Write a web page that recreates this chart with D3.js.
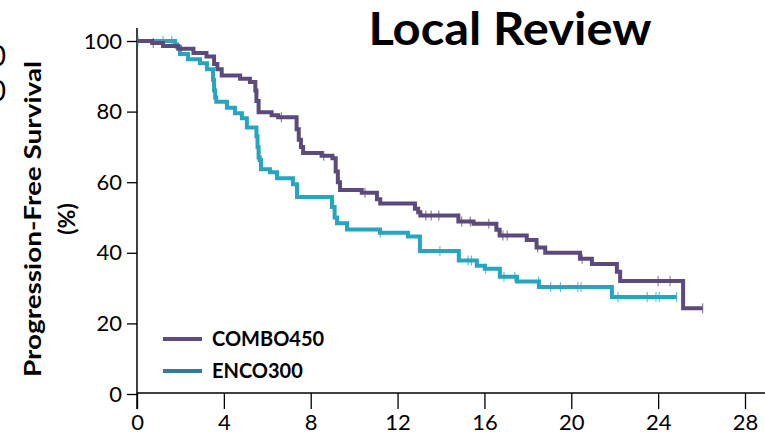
<!DOCTYPE html>
<html>
<head>
<meta charset="utf-8">
<script src="https://cdn.jsdelivr.net/npm/d3@7"></script>
<style>
  body { margin: 0; background: #fff; }
</style>
</head>
<body>
<div id="chart"></div>
<script>
// tick labels
const monthTicks = [0, 4, 8, 12, 16, 20, 24, 28];
const pctTicks = [0, 20, 40, 60, 80, 100];

// COMBO450 (Kaplan-Meier steps: time of event, survival after it)
const comboTime = [0, 0.7, 1.2, 1.9, 2.6, 3.2, 3.55, 3.7, 3.9, 4.75, 5.2, 5.45, 5.5, 5.6, 6.2, 6.5, 7.35, 7.45, 7.55, 7.65,
  8.5, 9.0, 9.15, 9.25, 9.35, 10.35, 11.05, 11.2, 12.8, 12.95, 13.05, 14.8, 15.5, 16.55, 16.7, 17.95, 18.4, 18.8,
  20.4, 20.95, 22.1, 22.25, 25.15];
const comboSurv = [100, 99.4, 98.6, 97.8, 96.6, 95.6, 93.5, 92.0, 90.2, 89.3, 88.4, 86, 83, 79.8, 79.0, 78.4, 75, 72, 70, 68.3,
  67.5, 66.8, 63, 60, 57.8, 57.0, 55.2, 54.0, 52.5, 51.5, 50.6, 48.9, 48.2, 46.5, 44.9, 43.6, 41.5, 40.0,
  38.3, 36.8, 34.6, 32.0, 24.3];
const comboEnd = 26.05;
const comboCensor = [0.75, 6.65, 8.6, 10.5, 13.3, 13.55, 13.9, 14.95, 15.35, 16.2, 16.85, 17.05, 18.45, 20.5, 24.0, 24.55, 26.05];

// ENCO300
const encoTime = [0, 1.75, 1.85, 1.98, 2.35, 2.9, 3.22, 3.5, 3.55, 3.6, 3.65, 4.14, 4.51, 4.83, 5.06, 5.5, 5.55, 5.6, 5.65, 5.71,
  6.12, 6.45, 7.18, 7.37, 8.98, 9.1, 9.21, 9.67, 11.19, 12.48, 13.03, 14.82, 15.65, 16.02, 16.71, 17.5, 18.51, 21.87];
const encoSurv = [100, 99, 98.3, 96.3, 94.8, 93.7, 92.0, 89, 86, 84, 82.8, 81.1, 79.5, 78.1, 75.5, 73, 70, 67, 66.3, 63.7,
  62.8, 61.1, 59.4, 55.8, 53, 50, 48.4, 46.6, 45.7, 44.6, 40.5, 37.8, 36.3, 35.5, 33.2, 31.9, 30.3, 27.5];
const encoEnd = 24.85;
const encoCensor = [0.05, 1.2, 1.6, 11.2, 13.95, 15.25, 15.4, 16.05, 16.9, 17.4, 18.5, 19.05, 19.5, 20.3, 20.45, 22.15, 23.5, 23.9, 24.05, 24.85];

const seriesNames = ["COMBO450", "ENCO300"];
const seriesColors = ["#5b4a7b", "#27a4be"];
const legendColors = ["#5e4c7e", "#2f7e95"];

const width = 765, height = 442;

const x = d3.scaleLinear([0, 28], [137, 745]);
const y = d3.scaleLinear([0, 100], [394, 41]);

function steps(times, surv, end) {
  const pts = times.map((t, i) => [t, surv[i]]);
  pts.push([end, surv[surv.length - 1]]);
  return pts;
}

function survAt(times, surv, t) {
  const i = d3.bisectRight(times, t) - 1;
  return surv[Math.max(0, i)];
}

const svg = d3.create("svg")
  .attr("width", width)
  .attr("height", height)
  .attr("viewBox", [0, 0, width, height])
  .style("display", "block")
  .attr("font-family", "Lato, 'Open Sans', sans-serif");

// cut-off labels of the neighbouring panel on the left edge
svg.append("g")
  .selectAll("text")
  .data([56, 91])
  .join("text")
  .attr("x", 6)
  .attr("y", d => d)
  .attr("dy", "0.36em")
  .attr("text-anchor", "end")
  .attr("font-size", 28)
  .text("0");

// title
svg.append("text")
  .attr("x", 510)
  .attr("y", 45)
  .attr("text-anchor", "middle")
  .attr("font-weight", "bold")
  .attr("font-size", 46)
  .attr("textLength", 283)
  .attr("lengthAdjust", "spacingAndGlyphs")
  .text("Local Review");

// y axis
const yAxis = svg.append("g")
  .attr("transform", `translate(${x(0)},0)`)
  .call(d3.axisLeft(y).tickValues(pctTicks).tickSize(10).tickPadding(5));
yAxis.select(".domain").remove();
yAxis.selectAll("line").attr("stroke", "#000").attr("stroke-width", 1.3);
yAxis.selectAll("text").attr("font-size", 22).attr("font-family", "Lato, sans-serif").attr("fill", "#000");
svg.append("line")
  .attr("x1", x(0)).attr("x2", x(0))
  .attr("y1", 28).attr("y2", 409)
  .attr("stroke", "#000").attr("stroke-width", 1.5);

// x axis
const xAxis = svg.append("g")
  .attr("transform", `translate(0,${y(0) - 1})`)
  .call(d3.axisBottom(x).tickValues(monthTicks).tickSize(16).tickPadding(5));
xAxis.select(".domain").remove();
xAxis.selectAll("line").attr("stroke", "#000").attr("stroke-width", 1.3);
xAxis.selectAll("text").attr("font-size", 22).attr("font-family", "Lato, sans-serif").attr("fill", "#000");
svg.append("line")
  .attr("x1", x(0)).attr("x2", width)
  .attr("y1", y(0) - 1).attr("y2", y(0) - 1)
  .attr("stroke", "#000").attr("stroke-width", 1.5);

// y axis title
svg.append("text")
  .attr("transform", `translate(41,219) rotate(-90)`)
  .attr("text-anchor", "middle")
  .attr("font-weight", "bold")
  .attr("font-size", 23)
  .attr("textLength", 316)
  .attr("lengthAdjust", "spacingAndGlyphs")
  .text("Progression-Free Survival");
svg.append("text")
  .attr("transform", `translate(75,219) rotate(-90)`)
  .attr("text-anchor", "middle")
  .attr("font-weight", "bold")
  .attr("font-size", 23)
  .text("(%)");

// curves
const line = d3.line()
  .x(d => x(d[0]))
  .y(d => y(d[1]))
  .curve(d3.curveStepAfter);

const curves = [
  {pts: steps(encoTime, encoSurv, encoEnd), times: encoTime, surv: encoSurv, censor: encoCensor, color: seriesColors[1]},
  {pts: steps(comboTime, comboSurv, comboEnd), times: comboTime, surv: comboSurv, censor: comboCensor, color: seriesColors[0]}
];

curves.forEach(c => {
  svg.append("path")
    .datum(c.pts)
    .attr("fill", "none")
    .attr("stroke", c.color)
    .attr("stroke-width", 4)
    .attr("stroke-linejoin", "miter")
    .attr("d", line);

  svg.append("g")
    .selectAll("line")
    .data(c.censor)
    .join("line")
    .attr("x1", d => x(d)).attr("x2", d => x(d))
    .attr("y1", d => y(survAt(c.times, c.surv, d)) - 5)
    .attr("y2", d => y(survAt(c.times, c.surv, d)) + 5)
    .attr("stroke", c.color)
    .attr("stroke-opacity", 0.7)
    .attr("stroke-width", 1.2);
});

// legend
const legend = svg.append("g")
  .selectAll("g")
  .data(seriesNames)
  .join("g")
  .attr("transform", (d, i) => `translate(163,${339 + i * 32})`);
legend.append("line")
  .attr("x1", 0).attr("x2", 39)
  .attr("stroke", (d, i) => legendColors[i])
  .attr("stroke-width", 4);
legend.append("text")
  .attr("x", 49)
  .attr("dy", "0.36em")
  .attr("font-weight", "bold")
  .attr("font-size", 20)
  .text(d => d);

document.getElementById("chart").appendChild(svg.node());
</script>
</body>
</html>
